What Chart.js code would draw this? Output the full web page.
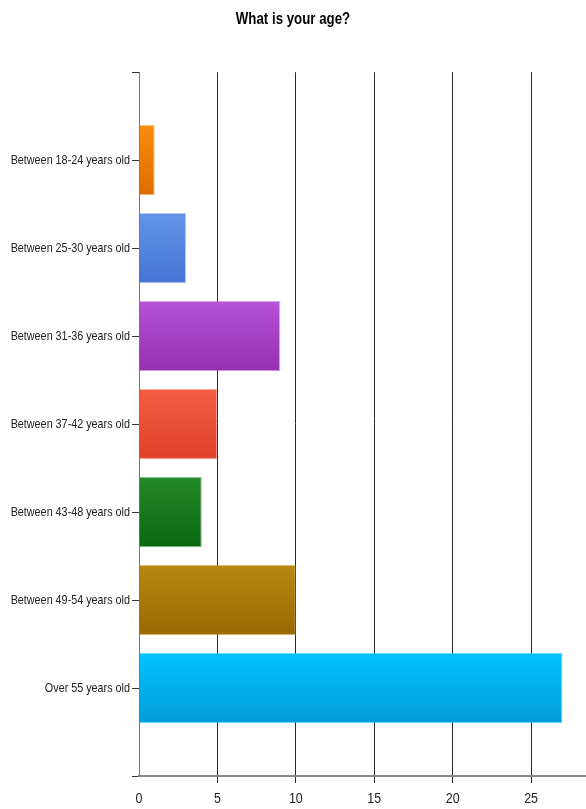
<!DOCTYPE html>
<html>
<head>
<meta charset="utf-8">
<script src="https://cdn.jsdelivr.net/npm/chart.js@4"></script>
<style>
    body { margin: 0; background: #fff; }
    #wrap { width: 586px; height: 809px; }
</style>
</head>
<body>
<div id="wrap"><canvas id="age_chart"></canvas></div>
<script>
// data
const ageGroups = ['Between 18-24 years old', 'Between 25-30 years old', 'Between 31-36 years old',
    'Between 37-42 years old', 'Between 43-48 years old', 'Between 49-54 years old', 'Over 55 years old'];
const answerCounts = [1, 3, 9, 5, 4, 10, 27];
const xTicks = [0, 5, 10, 15, 20, 25];

// colours, top / bottom of each bar
const topColors = ['#f88c0c', '#6394e8', '#b853d6', '#f65d41', '#258a2b', '#b9880f', '#02c1ff'];
const bottomColors = ['#de6d00', '#4774d6', '#962eae', '#de422a', '#07680f', '#9a6802', '#009dda'];

const fontFamily = "'Liberation Sans', Arial, sans-serif";

// empty slot above and below the bars
const labels = [''].concat(ageGroups, ['']);
const values = [null].concat(answerCounts, [null]);

// the original uses a narrow font, squeeze the text horizontally
const condensedText = {
    id: 'condensedText',
    beforeInit(chart) {
        const ctx = chart.ctx;
        const fill = ctx.fillText.bind(ctx);
        ctx.fillText = function (text, x, y) {
            ctx.save();
            ctx.translate(x, y);
            ctx.scale(0.83, 1);
            fill(text, 0, 0);
            ctx.restore();
        };
    }
};

function barGradient(ctx) {
    const i = ctx.dataIndex - 1;
    const chart = ctx.chart;
    const y = chart.scales.y;
    if (!y || i < 0 || i >= ageGroups.length) return '#ccc';
    const center = y.getPixelForValue(ctx.dataIndex);
    const half = (y.getPixelForValue(1) - y.getPixelForValue(0)) * 0.8 / 2;
    const g = chart.ctx.createLinearGradient(0, center - half, 0, center + half);
    g.addColorStop(0, topColors[i]);
    g.addColorStop(1, bottomColors[i]);
    return g;
}

new Chart(document.getElementById('age_chart'), {
    type: 'bar',
    plugins: [condensedText],
    data: {
        labels: labels,
        datasets: [{
            data: values,
            backgroundColor: barGradient,
            borderColor: ctx => (topColors[ctx.dataIndex - 1] || '#ffffff') + '88',
            borderWidth: 1,
            borderSkipped: 'left',
            categoryPercentage: 0.8,
            barPercentage: 1
        }]
    },
    options: {
        indexAxis: 'y',
        responsive: true,
        maintainAspectRatio: false,
        animation: false,
        layout: { padding: 0 },
        plugins: {
            legend: { display: false },
            tooltip: { enabled: false },
            title: {
                display: true,
                text: 'What is your age?',
                color: '#000',
                font: { family: fontFamily, size: 16, weight: 'bold' },
                padding: { top: 10, bottom: 43 }
            }
        },
        scales: {
            x: {
                type: 'linear',
                min: 0,
                max: 28.5,
                afterBuildTicks: function (scale) {
                    scale.ticks = xTicks.map(v => ({ value: v }));
                },
                afterFit: function (scale) {
                    scale.height = 33;
                },
                ticks: {
                    color: '#222',
                    padding: 7,
                    font: { family: fontFamily, size: 15 }
                },
                grid: {
                    color: ctx => (ctx.tick && ctx.tick.value === 0) ? 'rgba(0,0,0,0)' : '#2a2a2a',
                    lineWidth: 1,
                    tickLength: 7
                },
                border: { color: '#888', width: 2 }
            },
            y: {
                type: 'category',
                offset: false,
                afterFit: function (scale) {
                    scale.width = 139;
                },
                ticks: {
                    color: '#222',
                    padding: 2,
                    autoSkip: false,
                    font: { family: fontFamily, size: 13 }
                },
                grid: {
                    offset: false,
                    drawOnChartArea: false,
                    drawTicks: true,
                    tickLength: 7,
                    color: '#333'
                },
                border: { color: '#777', width: 1 }
            }
        }
    }
});
</script>
</body>
</html>
